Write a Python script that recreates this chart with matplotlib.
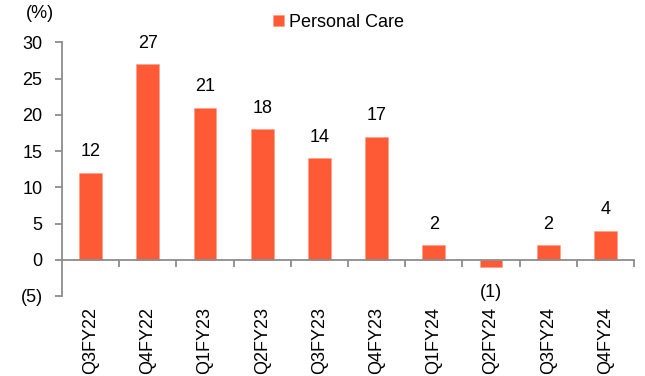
import numpy as np
import matplotlib.pyplot as plt
from matplotlib import rcParams
from matplotlib.ticker import FuncFormatter, FixedLocator

rcParams["font.family"] = ["Liberation Sans", "DejaVu Sans"]
ORANGE = "#FF5A36"
GREY = "#8c8c8c"

quarters = ["Q3FY22", "Q4FY22", "Q1FY23", "Q2FY23", "Q3FY23",
            "Q4FY23", "Q1FY24", "Q2FY24", "Q3FY24", "Q4FY24"]
personal_care = [12, 27, 21, 18, 14, 17, 2, -1, 2, 4]

fig = plt.figure(figsize=(6.45, 3.76), dpi=100)
ax = fig.add_axes([0.0961, 0.2128, 0.8869, 0.6747])

x = np.arange(len(quarters))
ax.bar(x, personal_care, width=0.4, color=ORANGE, edgecolor="#ff9a80",
       linewidth=0.4, label="Personal Care", zorder=2)

# data labels, negatives in brackets below the bar
for xi, v in zip(x, personal_care):
    txt = f"({abs(v)})" if v < 0 else f"{v}"
    off = -12 if v < 0 else 9
    ax.annotate(txt, (xi, v), xytext=(0, off), textcoords="offset points",
                ha="center", va="top" if v < 0 else "bottom", fontsize=13)

ax.set_xlim(-0.5, len(quarters) - 0.5)
ax.set_ylim(-5, 30)
ax.set_yticks(range(-5, 31, 5))
ax.yaxis.set_major_formatter(FuncFormatter(lambda v, p: f"({abs(int(v))})" if v < 0 else f"{int(v)}"))

for s in ["top", "right"]:
    ax.spines[s].set_visible(False)
ax.spines["bottom"].set_position(("data", 0))
for s in ["left", "bottom"]:
    ax.spines[s].set_color(GREY)
    ax.spines[s].set_linewidth(1.3)

ax.set_xticks(x)
ax.set_xticklabels(quarters, rotation=90, fontsize=13)
ax.xaxis.set_minor_locator(FixedLocator(np.arange(0.5, len(quarters), 1.0)))
ax.tick_params(axis="x", which="major", length=0, pad=34)
ax.tick_params(axis="x", which="minor", length=5, width=1.3, color=GREY)
ax.tick_params(axis="y", length=5, width=1.3, color=GREY, pad=9, labelsize=13)

fig.text(40 / 645, 1 - 13.5 / 376, "(%)", ha="center", va="center", fontsize=13)
fig.legend(loc="center", bbox_to_anchor=(0.525, 0.941), frameon=False,
           fontsize=13, handlelength=0.6, handleheight=0.6, handletextpad=0.3)

fig.savefig("out.png", dpi=100, facecolor="white")
